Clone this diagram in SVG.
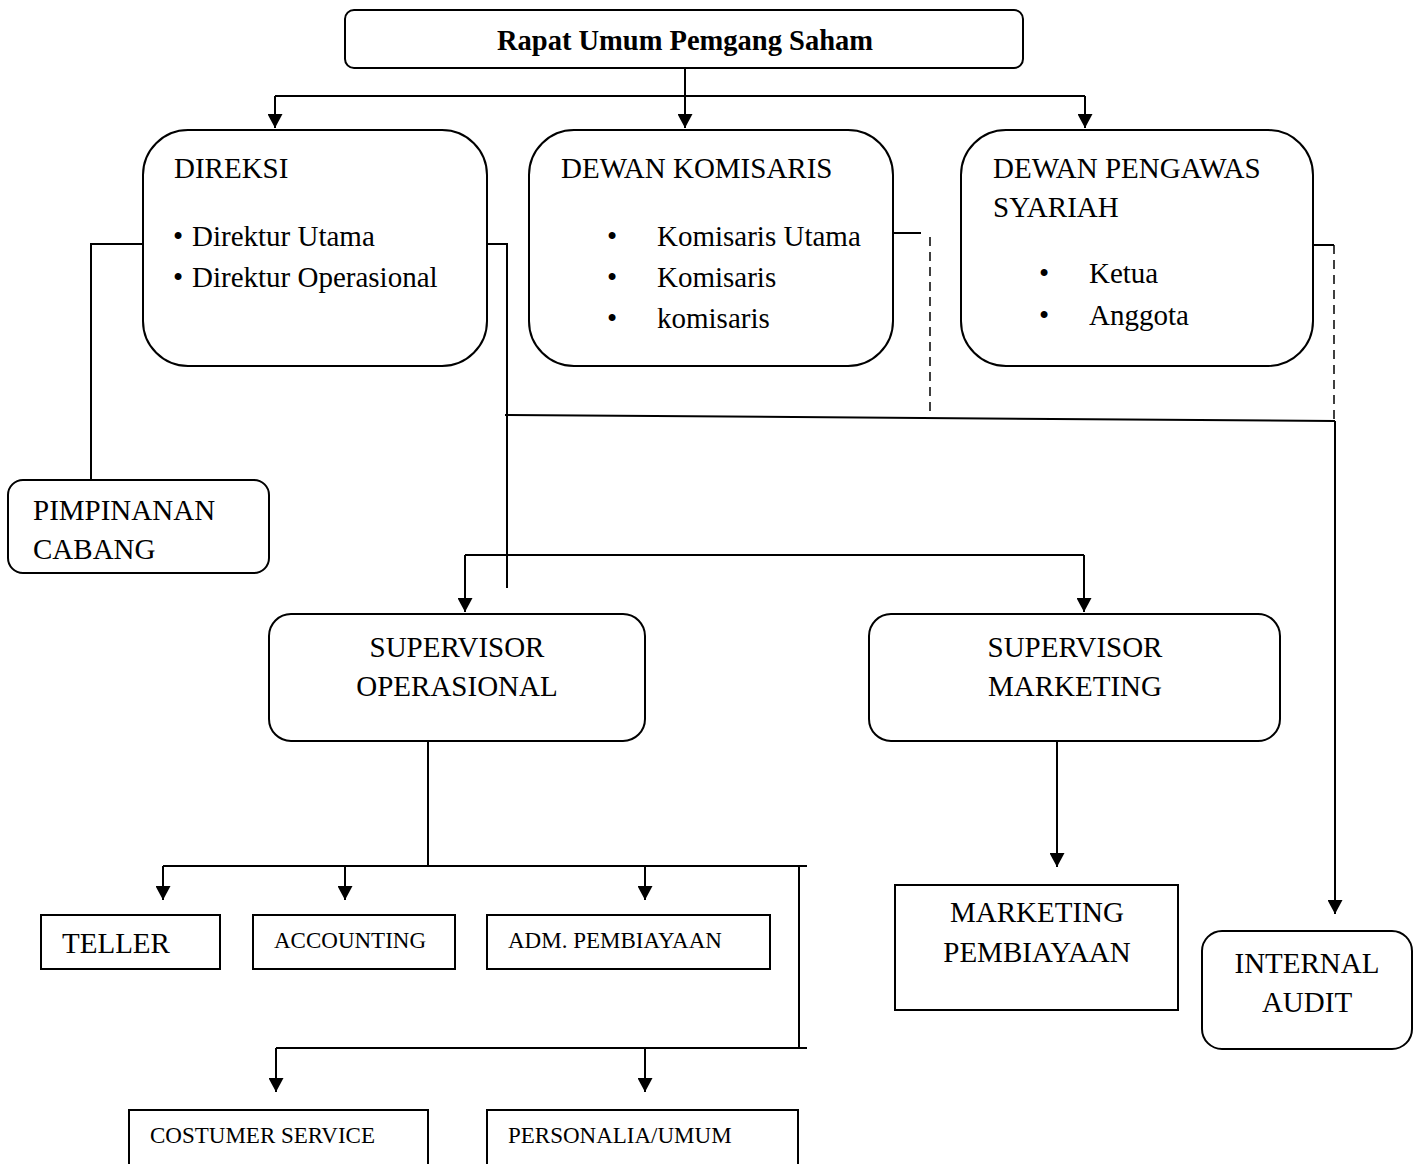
<svg xmlns="http://www.w3.org/2000/svg" width="1414" height="1164" viewBox="0 0 1414 1164">
<style>
.box{fill:#fff;stroke:#000;stroke-width:2}
.ln{fill:none;stroke:#000;stroke-width:2}
.dash{fill:none;stroke:#000;stroke-width:1.5;stroke-dasharray:9 6}
.t{font-family:"Liberation Serif","Times New Roman",serif;font-size:29px;fill:#000}
.s{font-family:"Liberation Serif","Times New Roman",serif;font-size:23px;fill:#000}
.b{font-weight:bold;font-size:28.5px}
.c{text-anchor:middle}
</style>
<defs>
<marker id="arr" viewBox="0 0 14 15" refX="14" refY="7.5" markerWidth="14" markerHeight="15" markerUnits="userSpaceOnUse" orient="auto"><path d="M0,0 L14,7.5 L0,15 z" fill="#000"/></marker>
</defs>
<rect width="1414" height="1164" fill="#fff"/>
<g id="connectors">
<path class="ln" d="M685,68 V128" marker-end="url(#arr)"/>
<path class="ln" d="M275,96 H1085"/>
<path class="ln" d="M275,96 V128" marker-end="url(#arr)"/>
<path class="ln" d="M1085,96 V128" marker-end="url(#arr)"/>
<path class="ln" d="M143,244 H91 V480"/>
<path class="ln" d="M487,244 H507 V588"/>
<path class="ln" d="M505,415 L1335,421"/>
<path class="ln" d="M1335,421 V914" marker-end="url(#arr)"/>
<path class="ln" d="M893,233 H921"/>
<path class="dash" d="M930,237 V417"/>
<path class="ln" d="M1313,245 H1334"/>
<path class="dash" d="M1334,245 V421"/>
<path class="ln" d="M465,555 H1084"/>
<path class="ln" d="M465,555 V612" marker-end="url(#arr)"/>
<path class="ln" d="M1084,555 V612" marker-end="url(#arr)"/>
<path class="ln" d="M428,741 V866"/>
<path class="ln" d="M163,866 H807"/>
<path class="ln" d="M163,866 V900" marker-end="url(#arr)"/>
<path class="ln" d="M345,866 V900" marker-end="url(#arr)"/>
<path class="ln" d="M645,866 V900" marker-end="url(#arr)"/>
<path class="ln" d="M799,866 V1048"/>
<path class="ln" d="M276,1048 H807"/>
<path class="ln" d="M276,1048 V1092" marker-end="url(#arr)"/>
<path class="ln" d="M645,1048 V1092" marker-end="url(#arr)"/>
<path class="ln" d="M1057,741 V867" marker-end="url(#arr)"/>
</g>
<g id="rups">
<rect class="box" x="345" y="10" width="678" height="58" rx="9"/>
<text class="t b c" x="685" y="50">Rapat Umum Pemgang Saham</text>
</g>
<g id="direksi">
<rect class="box" x="143" y="130" width="344" height="236" rx="45"/>
<text class="t" x="174" y="178">DIREKSI</text>
<text class="t" x="173" y="246">•</text>
<text class="t" x="192" y="246">Direktur Utama</text>
<text class="t" x="173" y="287">•</text>
<text class="t" x="192" y="287">Direktur Operasional</text>
</g>
<g id="komisaris">
<rect class="box" x="529" y="130" width="364" height="236" rx="45"/>
<text class="t" x="561" y="178">DEWAN KOMISARIS</text>
<text class="t" x="607" y="246">•</text>
<text class="t" x="657" y="246">Komisaris Utama</text>
<text class="t" x="607" y="287">•</text>
<text class="t" x="657" y="287">Komisaris</text>
<text class="t" x="607" y="328">•</text>
<text class="t" x="657" y="328">komisaris</text>
</g>
<g id="dps">
<rect class="box" x="961" y="130" width="352" height="236" rx="45"/>
<text class="t" x="993" y="178">DEWAN PENGAWAS</text>
<text class="t" x="993" y="217">SYARIAH</text>
<text class="t" x="1039" y="283">•</text>
<text class="t" x="1089" y="283">Ketua</text>
<text class="t" x="1039" y="325">•</text>
<text class="t" x="1089" y="325">Anggota</text>
</g>
<g id="pimpinan">
<rect class="box" x="8" y="480" width="261" height="93" rx="15"/>
<text class="t" x="33" y="520">PIMPINANAN</text>
<text class="t" x="33" y="559">CABANG</text>
</g>
<g id="supop">
<rect class="box" x="269" y="614" width="376" height="127" rx="22"/>
<text class="t c" x="457" y="657">SUPERVISOR</text>
<text class="t c" x="457" y="696">OPERASIONAL</text>
</g>
<g id="supmkt">
<rect class="box" x="869" y="614" width="411" height="127" rx="22"/>
<text class="t c" x="1075" y="657">SUPERVISOR</text>
<text class="t c" x="1075" y="696">MARKETING</text>
</g>
<g id="teller">
<rect class="box" x="41" y="915" width="179" height="54"/>
<text class="t" x="62" y="953">TELLER</text>
</g>
<g id="accounting">
<rect class="box" x="253" y="915" width="202" height="54"/>
<text class="s" x="274" y="948">ACCOUNTING</text>
</g>
<g id="admpemb">
<rect class="box" x="487" y="915" width="283" height="54"/>
<text class="s" x="508" y="948">ADM. PEMBIAYAAN</text>
</g>
<g id="cs">
<rect class="box" x="129" y="1110" width="299" height="80"/>
<text class="s" x="150" y="1143">COSTUMER SERVICE</text>
</g>
<g id="personalia">
<rect class="box" x="487" y="1110" width="311" height="80"/>
<text class="s" x="508" y="1143">PERSONALIA/UMUM</text>
</g>
<g id="mktpemb">
<rect class="box" x="895" y="885" width="283" height="125"/>
<text class="t c" x="1037" y="922">MARKETING</text>
<text class="t c" x="1037" y="962">PEMBIAYAAN</text>
</g>
<g id="audit">
<rect class="box" x="1202" y="931" width="210" height="118" rx="20"/>
<text class="t c" x="1307" y="973">INTERNAL</text>
<text class="t c" x="1307" y="1012">AUDIT</text>
</g>
</svg>
